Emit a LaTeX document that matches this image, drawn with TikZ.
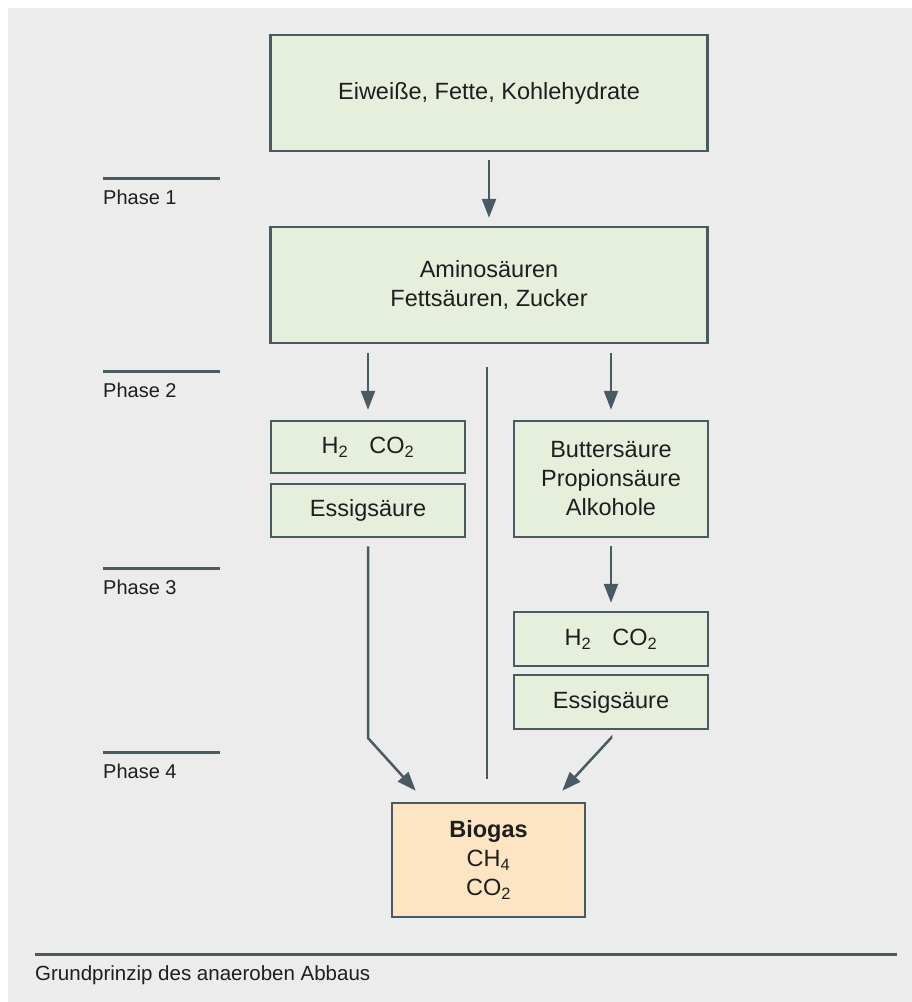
\documentclass[tikz,border=0pt]{standalone}
\usepackage{fontspec}
\setmainfont{Liberation Sans}
\usetikzlibrary{arrows.meta}

\definecolor{bgcol}{HTML}{ECECEC}
\definecolor{boxcol}{HTML}{E6EFDB}
\definecolor{gascol}{HTML}{FDE5C3}
\definecolor{linecol}{HTML}{4A5A63}
\definecolor{textcol}{HTML}{1E1E1E}

\begin{document}
\begin{tikzpicture}[x=1pt, y=-1pt,
        stage/.style={rectangle, draw=linecol, fill=boxcol, line width=2.5pt, text=textcol,
            align=center, font=\fontsize{23.5}{29}\selectfont, inner sep=0pt},
        gas/.style={stage, fill=gascol},
        phase/.style={text=textcol, font=\fontsize{20}{24}\selectfont, inner sep=0pt},
        arr/.style={draw=linecol, line width=2.5pt, -{Triangle[length=19pt, width=14pt]}},
        plain/.style={draw=linecol, line width=2.5pt},
        rule/.style={draw=linecol, line width=3pt}
    ]
        % Background
        \useasboundingbox (0,0) rectangle (912,1002);
        \fill[bgcol] (8,8) rectangle (912,1002);

        % Nodes
        \node[stage, minimum width=437pt, minimum height=116pt] (eiw) at (489, 93) {Eiweiße, Fette, Kohlehydrate};
        \node[stage, minimum width=437pt, minimum height=116pt] (amino) at (489, 285) {Aminosäuren\\Fettsäuren, Zucker};
        \node[stage, minimum width=194pt, minimum height=52pt] (hco1) at (368, 447) {H\textsubscript{2}\hspace{0.9em}CO\textsubscript{2}};
        \node[stage, minimum width=194pt, minimum height=53pt] (essig1) at (368, 510.5) {Essigsäure};
        \node[stage, minimum width=194pt, minimum height=116pt] (butter) at (611, 479) {Buttersäure\\Propionsäure\\Alkohole};
        \node[stage, minimum width=194pt, minimum height=54pt] (hco2) at (611, 639) {H\textsubscript{2}\hspace{0.9em}CO\textsubscript{2}};
        \node[stage, minimum width=194pt, minimum height=54pt] (essig2) at (611, 702) {Essigsäure};
        \node[gas, minimum width=193pt, minimum height=114pt] (biogas) at (488.5, 860) {\textbf{Biogas}\\CH\textsubscript{4}\\CO\textsubscript{2}};

        \coordinate (lbend) at (368, 738);
        \coordinate (rbend) at (611, 738);
        \coordinate (ltip) at ([xshift=25pt, yshift=11pt]biogas.north west);
        \coordinate (rtip) at ([xshift=-24pt, yshift=11pt]biogas.north east);

        % Edges
        \draw[arr, shorten <=8pt, shorten >=8pt] (eiw) -- (amino);
        \draw[arr, shorten <=9pt, shorten >=10pt] (amino.south -| hco1.north) -- (hco1.north);
        \draw[arr, shorten <=9pt, shorten >=10pt] (amino.south -| butter.north) -- (butter.north);
        \draw[arr, shorten <=8pt, shorten >=8pt] (butter) -- (hco2);
        \draw[plain, shorten <=23pt, shorten >=23pt] (amino.south -| 487,0) -- (biogas.north -| 487,0);
        \draw[arr, shorten <=8pt] (essig1.south) -- (lbend) -- (ltip);
        \draw[arr, shorten <=8pt] (essig2.south) -- (rbend) -- (rtip);

        % Phases
        \foreach \y/\n in {178/1, 371/2, 568/3, 752/4} {
            \draw[rule] (103,\y) -- (220,\y);
            \node[phase, anchor=base west] (ph\n) at (103,\y+26) {Phase \n};
        }

        % Caption
        \draw[rule] (35,954) -- (897,954);
        \node[phase, anchor=base west, font=\fontsize{20.5}{24}\selectfont] (caption) at (35,980) {Grundprinzip des anaeroben Abbaus};

    \end{tikzpicture}
\end{document}
